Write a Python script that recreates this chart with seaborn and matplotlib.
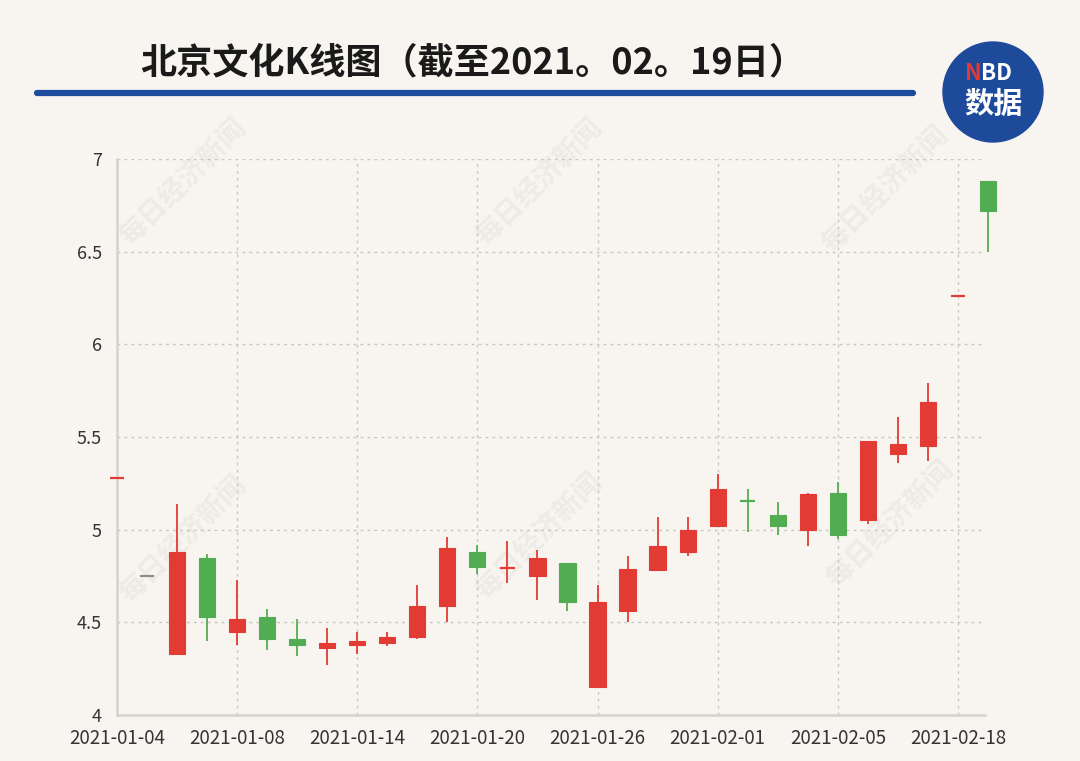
import matplotlib
matplotlib.use('Agg')
import matplotlib.pyplot as plt
import seaborn as sns
import pandas as pd
from matplotlib.patches import Circle

# data
dates = ['2021-01-04', '2021-01-05', '2021-01-06', '2021-01-07', '2021-01-08',
         '2021-01-11', '2021-01-12', '2021-01-13', '2021-01-14', '2021-01-15',
         '2021-01-18', '2021-01-19', '2021-01-20', '2021-01-21', '2021-01-22',
         '2021-01-25', '2021-01-26', '2021-01-27', '2021-01-28', '2021-01-29',
         '2021-02-01', '2021-02-02', '2021-02-03', '2021-02-04', '2021-02-05',
         '2021-02-08', '2021-02-09', '2021-02-10', '2021-02-18', '2021-02-19']
open_ = [5.28, 4.75, 4.33, 4.85, 4.45, 4.53, 4.41, 4.36, 4.38, 4.39,
         4.42, 4.59, 4.88, 4.79, 4.75, 4.82, 4.15, 4.56, 4.78, 4.88,
         5.02, 5.16, 5.08, 5.00, 5.20, 5.05, 5.41, 5.45, 6.26, 6.88]
close = [5.28, 4.75, 4.88, 4.53, 4.52, 4.41, 4.38, 4.39, 4.40, 4.42,
         4.59, 4.90, 4.80, 4.80, 4.85, 4.61, 4.61, 4.79, 4.91, 5.00,
         5.22, 5.15, 5.02, 5.19, 4.97, 5.48, 5.46, 5.69, 6.26, 6.72]
high = [5.28, 4.75, 5.14, 4.87, 4.73, 4.57, 4.52, 4.47, 4.45, 4.45,
        4.70, 4.96, 4.92, 4.94, 4.89, 4.82, 4.70, 4.86, 5.07, 5.07,
        5.30, 5.22, 5.15, 5.20, 5.26, 5.48, 5.61, 5.79, 6.26, 6.88]
low = [5.28, 4.75, 4.33, 4.40, 4.38, 4.35, 4.32, 4.27, 4.33, 4.37,
       4.41, 4.50, 4.76, 4.71, 4.62, 4.56, 4.15, 4.50, 4.78, 4.86,
       5.02, 4.99, 4.97, 4.91, 4.95, 5.03, 5.36, 5.37, 6.26, 6.50]
# the flat day is drawn grey
flat_days = ['2021-01-05']

df = pd.DataFrame({'date': dates, 'open': open_, 'close': close, 'high': high, 'low': low})
df['pos'] = range(len(df))

red = '#E23B34'
green = '#52AD52'
grey = '#8c8c8c'
bg = '#F8F5F1'

sns.set_theme(style='white')
plt.rcParams['font.family'] = ['Noto Sans CJK SC', 'DejaVu Sans']

fig = plt.figure(figsize=(10.8, 7.61), dpi=100, facecolor=bg)
ax = fig.add_axes([0.1083, 0.0604, 0.8037, 0.7306], facecolor='none')

# watermarks (under the candles)
for x, y in [(0.17, 0.76), (0.50, 0.76), (0.82, 0.75), (0.17, 0.29), (0.50, 0.295), (0.825, 0.31)]:
    ax.text(x, y, '每日经济新闻', rotation=45, ha='center', va='center', transform=fig.transFigure,
            fontsize=20, color='#eeeae5', fontweight='bold', zorder=0.5, clip_on=False)

for _, r in df.iterrows():
    if r['date'] in flat_days:
        c = grey
    elif r['close'] >= r['open']:
        c = red
    else:
        c = green
    ax.vlines(r['pos'], r['low'], r['high'], color=c, lw=1.3, zorder=3, clip_on=False)
    h = abs(r['close'] - r['open'])
    if h < 0.012:
        ax.hlines((r['open'] + r['close']) / 2, r['pos'] - 0.24, r['pos'] + 0.24,
                  color=c, lw=1.6, zorder=4, clip_on=False)
    else:
        ax.bar(r['pos'], h, bottom=min(r['open'], r['close']), width=0.54,
               color=c, edgecolor=c, lw=0.8, zorder=4, clip_on=False)

ax.set_xlim(0, 28.9)
ax.set_ylim(4, 7)
ax.set_yticks([4, 4.5, 5, 5.5, 6, 6.5, 7])
ax.set_yticklabels(['4', '4.5', '5', '5.5', '6', '6.5', '7'])
ticks = list(range(0, len(df), 4))
ax.set_xticks(ticks)
ax.set_xticklabels([dates[i] for i in ticks])
ax.tick_params(axis='both', length=0, colors='#333333')
ax.tick_params(axis='x', pad=9, labelsize=13.5)
ax.tick_params(axis='y', pad=11, labelsize=13)

ax.grid(True, ls=(0, (2, 3)), color='#c8c6c2', lw=1, zorder=1)
ax.set_axisbelow(True)
for s in ['top', 'right']:
    ax.spines[s].set_visible(False)
for s in ['left', 'bottom']:
    ax.spines[s].set_color('#d6d3cf')
    ax.spines[s].set_linewidth(1.8)

# title, rule and logo
fig.text(0.13, 0.918, '北京文化K线图（截至2021。02。19日）', fontsize=26,
         fontweight='bold', color='#1a1a1a', ha='left', va='center')
fig.add_artist(plt.Line2D([0.034, 0.845], [0.878, 0.878], color='#1D4C9C', lw=4.5,
                          transform=fig.transFigure))
logo = Circle((9.93, 7.61 - 0.92), 0.5, transform=fig.dpi_scale_trans,
              color='#1D4A9A', zorder=5)
fig.add_artist(logo)
fig.text(0.9085, 1 - 73 / 761, 'N', fontsize=16, fontweight='bold', color='#E23B34',
         ha='right', va='center', zorder=6)
fig.text(0.9085, 1 - 73 / 761, 'BD', fontsize=16, fontweight='bold', color='white',
         ha='left', va='center', zorder=6)
fig.text(0.92, 1 - 104 / 761, '数据', fontsize=21, fontweight='bold', color='white',
         ha='center', va='center', zorder=6)

fig.savefig('out.png', dpi=100, facecolor=bg)
